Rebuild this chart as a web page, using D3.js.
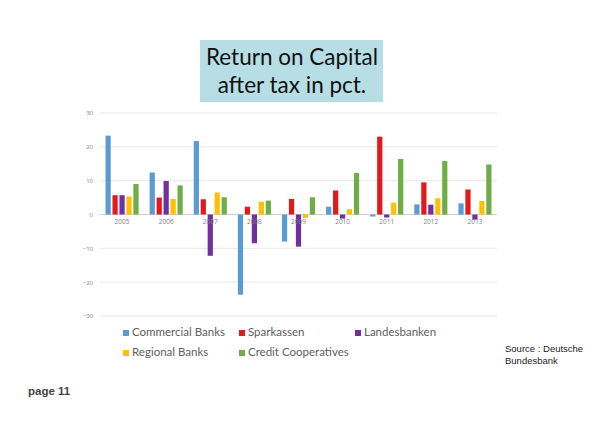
<!DOCTYPE html>
<html>
<head>
<meta charset="utf-8">
<script src="https://cdn.jsdelivr.net/npm/d3@7"></script>
<style>
  body { margin: 0; background: #fff; }
  svg { display: block; }
</style>
</head>
<body>
<svg id="chart"></svg>
<script>
// chart data
const years = ["2005", "2006", "2007", "2008", "2009", "2010", "2011", "2012", "2013"];
const series = ["Commercial Banks", "Sparkassen", "Landesbanken", "Regional Banks", "Credit Cooperatives"];
const commercialBanks    = [23.3, 12.4, 21.7, -23.7, -8.0, 2.3, -0.6, 3.0, 3.3];
const sparkassen         = [5.7, 5.0, 4.5, 2.3, 4.6, 7.1, 23.0, 9.5, 7.4];
const landesbanken       = [5.7, 9.9, -12.2, -8.5, -9.5, -1.2, -0.9, 2.9, -1.5];
const regionalBanks      = [5.3, 4.6, 6.5, 3.8, -1.0, 1.6, 3.5, 4.8, 4.0];
const creditCooperatives = [9.0, 8.6, 5.1, 4.1, 5.1, 12.3, 16.4, 15.8, 14.8];
const yTicks = [-30, -20, -10, 0, 10, 20, 30];

const colors = ["#5b9bd5", "#e31a1c", "#7030a0", "#ffc000", "#70ad47"];
const values = [commercialBanks, sparkassen, landesbanken, regionalBanks, creditCooperatives];

const W = 600, H = 423;
const svg = d3.select('#chart').attr('width', W).attr('height', H);

// title box
svg.append('rect')
  .attr('x', 200).attr('y', 40).attr('width', 183).attr('height', 62)
  .attr('fill', '#b7dde5');
svg.append('text')
  .attr('x', 292).attr('y', 65)
  .attr('text-anchor', 'middle')
  .style('font-family', 'Lato, sans-serif').style('font-size', '22.5px')
  .attr('fill', '#111')
  .text('Return on Capital');
svg.append('text')
  .attr('x', 292).attr('y', 93)
  .attr('text-anchor', 'middle')
  .style('font-family', 'Lato, sans-serif').style('font-size', '22.5px')
  .attr('fill', '#111')
  .text('after tax in pct.');

// plot area
const plot = { left: 100, right: 497, top: 113, bottom: 316 };

const x = d3.scaleBand()
  .domain(years)
  .range([plot.left, plot.right])
  .paddingInner(0.25)
  .paddingOuter(0.125);

const xs = d3.scaleBand()
  .domain(series)
  .range([0, x.bandwidth()])
  .paddingInner(0.25);

const y = d3.scaleLinear()
  .domain([-30, 30])
  .range([plot.bottom, plot.top]);

// gridlines
svg.append('g')
  .selectAll('line')
  .data(yTicks)
  .join('line')
  .attr('x1', plot.left).attr('x2', plot.right)
  .attr('y1', d => y(d)).attr('y2', d => y(d))
  .attr('stroke', d => d === 0 ? '#d0d0d0' : '#e8e8e8')
  .attr('stroke-width', 1);

// y axis labels
const yAxis = svg.append('g')
  .attr('transform', `translate(${plot.left - 7},0)`)
  .call(d3.axisLeft(y).tickValues(yTicks).tickSize(0).tickPadding(0));
yAxis.select('.domain').remove();
yAxis.selectAll('text')
  .style('font-family', '"Open Sans", sans-serif').style('font-size', '6px')
  .attr('fill', '#808080');

// bars
const groups = svg.append('g')
  .selectAll('g')
  .data(years)
  .join('g')
  .attr('transform', d => `translate(${x(d)},0)`);

groups.selectAll('rect')
  .data((yr, i) => series.map((s, j) => ({ s: s, v: values[j][i], c: colors[j] })))
  .join('rect')
  .attr('x', d => xs(d.s))
  .attr('width', xs.bandwidth())
  .attr('y', d => y(Math.max(0, d.v)))
  .attr('height', d => Math.abs(y(d.v) - y(0)))
  .attr('fill', d => d.c);

// year labels just under zero line
const xAxis = svg.append('g')
  .attr('transform', `translate(0,${y(0) + 5})`)
  .call(d3.axisBottom(x).tickSize(0).tickPadding(0));
xAxis.select('.domain').remove();
xAxis.selectAll('text')
  .style('font-family', '"Open Sans", sans-serif').style('font-size', '6.5px')
  .attr('fill', '#808080');

// legend
const legendPos = [
  { x: 123, y: 336 }, { x: 239, y: 336 }, { x: 355, y: 336 },
  { x: 123, y: 356 }, { x: 239, y: 356 }
];
const legend = svg.append('g')
  .selectAll('g')
  .data(series)
  .join('g')
  .attr('transform', (d, i) => `translate(${legendPos[i].x},${legendPos[i].y})`);
legend.append('rect')
  .attr('x', 0).attr('y', -6).attr('width', 6).attr('height', 6)
  .attr('fill', (d, i) => colors[i]);
legend.append('text')
  .attr('x', 9).attr('y', 0)
  .style('font-family', 'Lato, sans-serif').style('font-size', '11.5px')
  .attr('fill', '#606060')
  .text(d => d);

// source note
const src = svg.append('text')
  .attr('x', 505).attr('y', 352)
  .style('font-family', '"Liberation Sans", Arial, sans-serif').style('font-size', '9.5px')
  .attr('fill', '#222');
src.append('tspan').attr('x', 505).text('Source\u00a0:  Deutsche');
src.append('tspan').attr('x', 505).attr('dy', 12).text('Bundesbank');

// page number
svg.append('text')
  .attr('x', 28).attr('y', 395)
  .style('font-family', '"Liberation Sans", Arial, sans-serif').style('font-size', '11.5px')
  .style('font-weight', 'bold')
  .attr('fill', '#444')
  .text('page 11');
</script>
</body>
</html>
